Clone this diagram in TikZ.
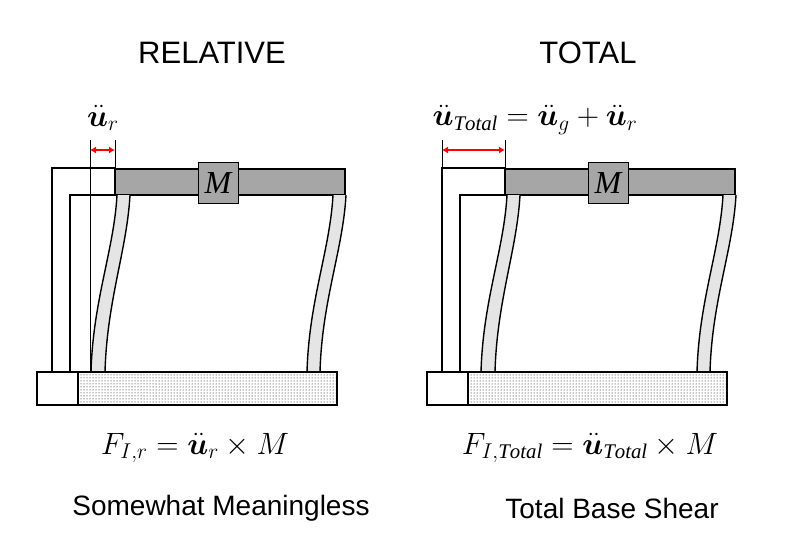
\documentclass[tikz,border=0pt]{standalone}
\usepackage{bm}
\usepackage{graphicx}
\usepackage{fontspec}
\setmainfont{Liberation Serif}
\setsansfont{Liberation Sans}
\usetikzlibrary{patterns,arrows.meta}
\newcommand\bigeq[1]{\scalebox{1.24}{\fontsize{24}{24}\selectfont #1}}
\begin{document}
\begin{tikzpicture}[x=1pt,y=-1pt,
  frm/.style={line width=1.6pt},
  col/.style={fill=black!10,line width=1.4pt},
  beam/.style={fill=black!35,draw,line width=1.6pt},
  massbox/.style={fill=black!35,draw,line width=1pt,minimum width=40pt,minimum height=41pt,inner sep=0pt,font=\fontsize{32}{32}\selectfont\itshape},
  gnd/.style={draw,line width=1.4pt,pattern=dots,pattern color=black},
  redarr/.style={red,line width=2.6pt,{Latex[length=6pt,width=7pt]}-{Latex[length=6pt,width=7pt]}},
  title/.style={font=\sffamily\fontsize{31}{31}\selectfont},
  captext/.style={font=\sffamily\fontsize{28}{28}\selectfont},
  eq/.style={inner sep=1pt}]
\useasboundingbox (0,0) rectangle (810,540);
\node[title] (t1) at (212,53) {RELATIVE};
\node[title] (t2) at (588,53) {TOTAL};
\foreach \o/\n in {0/a,390/b}{
 \begin{scope}[xshift=\o]
  \draw[frm] (52,372) -- (52,168) -- (115,168);
  \draw[frm] (70,372) -- (70,195) -- (117,195);
  \draw[beam] (115,169) rectangle (345,195);
  \draw[col] (117,195) .. controls (114,250) and (93,300) .. (91,372) -- (105,372) .. controls (107,300) and (127,250) .. (130,195);
  \draw[col] (333,195) .. controls (330,250) and (309,300) .. (307,372) -- (320,372) .. controls (322,300) and (343,250) .. (346,195);
  \node[massbox] (m\n) at (218,183) {M};
  \draw[line width=1.4pt] (37,372) rectangle (78,405);
  \draw[gnd] (78,372) rectangle (337,405);
 \end{scope}}
% left annotations
\draw[line width=0.6pt] (90,140) -- (90,372);
\draw[line width=0.6pt] (115,140) -- (115,168);
\coordinate (la) at (90,150); \coordinate (lb) at (115,150);
\draw[redarr] (la) -- (lb);
\node[eq] (ur) at (103,118) {\bigeq{$\ddot{\bm u}_r$}};
% right annotations
\draw[line width=0.6pt] (442,140) -- (442,168);
\draw[line width=0.6pt] (505,140) -- (505,168);
\coordinate (ra) at (442,150); \coordinate (rb) at (505,150);
\draw[redarr] (ra) -- (rb);
\node[eq] (ut) at (535,120) {\bigeq{$\ddot{\bm u}_{\mathit{Total}} = \ddot{\bm u}_g + \ddot{\bm u}_r$}};
\node[eq] (f1) at (195,448) {\bigeq{$F_{I,r} = \ddot{\bm u}_r \times M$}};
\node[eq] (f2) at (590,448) {\bigeq{$F_{I,\mathit{Total}} = \ddot{\bm u}_{\mathit{Total}} \times M$}};
\node[captext] (c1) at (221,508) {Somewhat Meaningless};
\node[captext] (c2) at (612,508) {Total Base Shear};
\end{tikzpicture}
\end{document}
